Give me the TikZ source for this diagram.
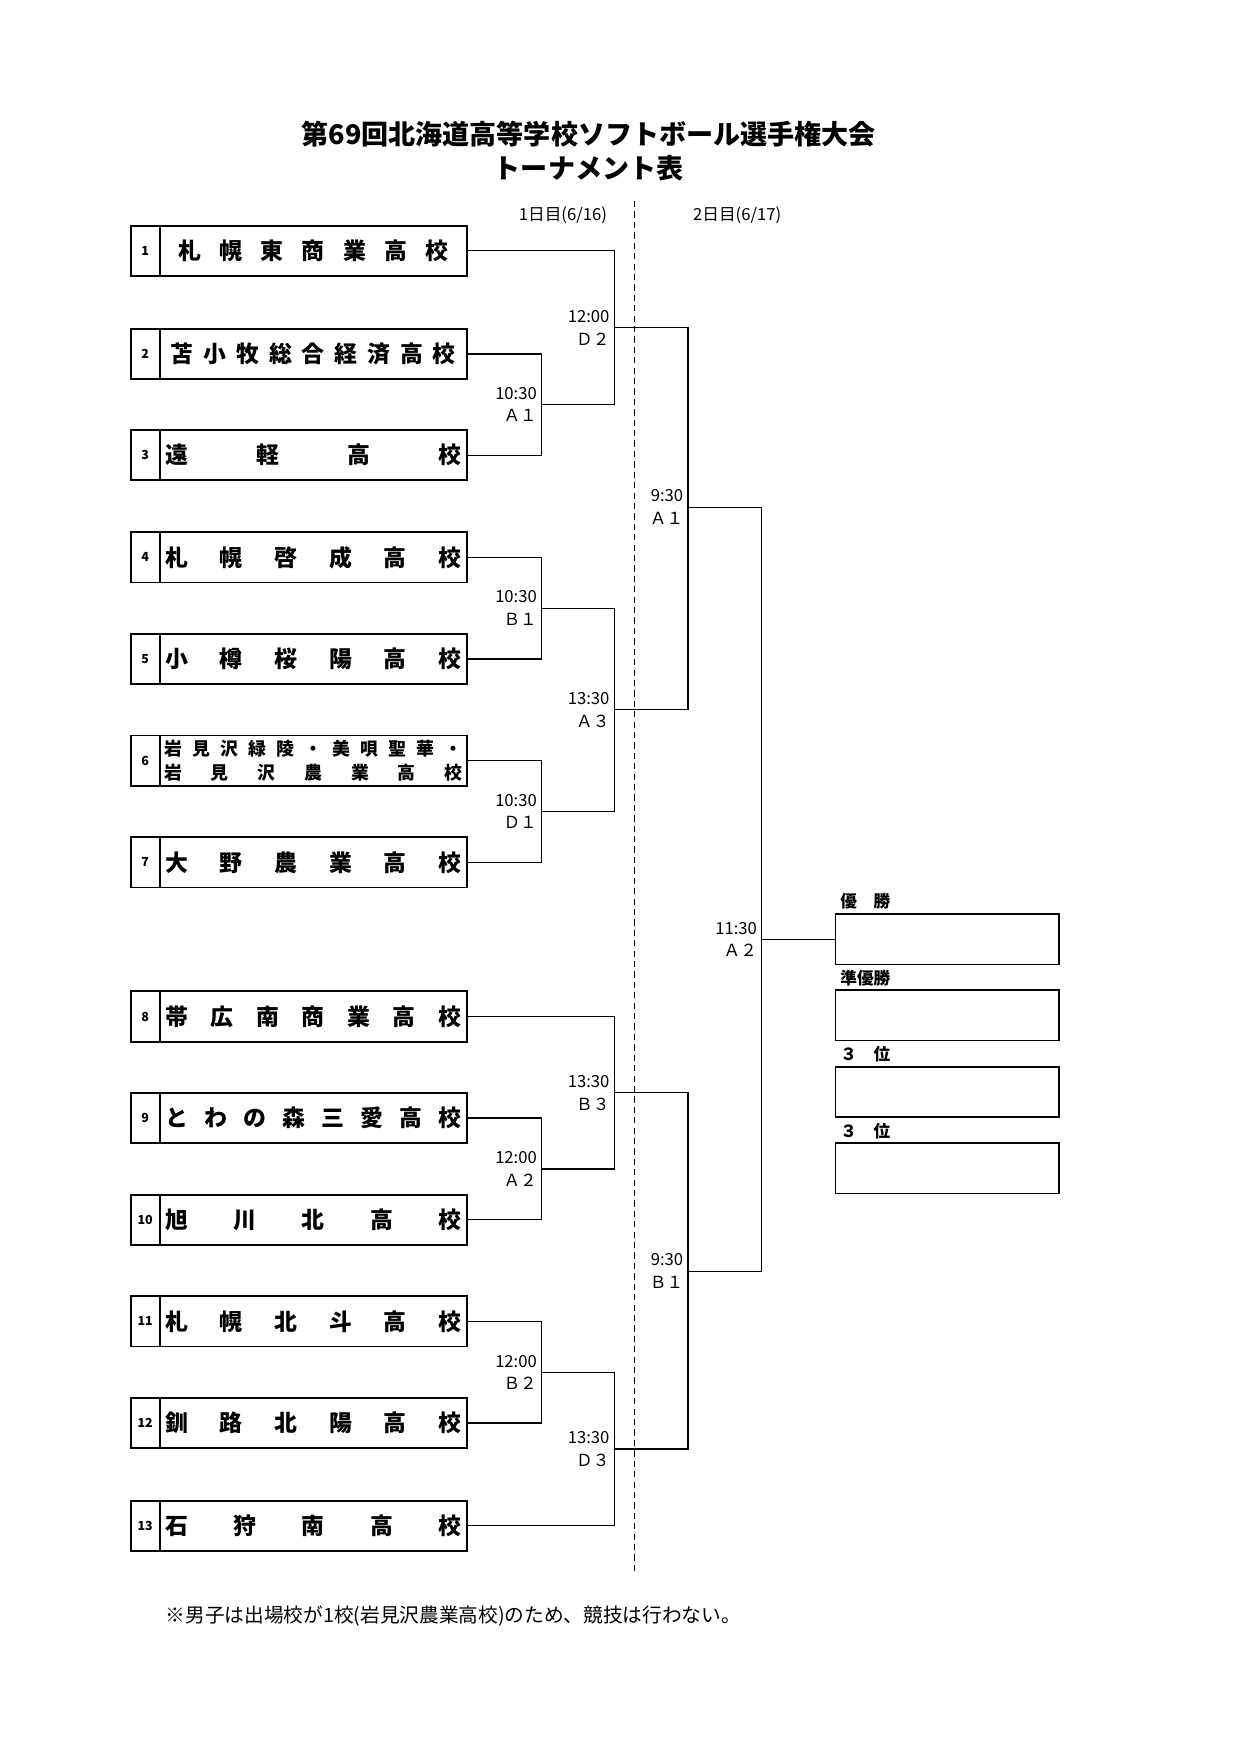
\documentclass[tikz,border=0pt]{standalone}
\usepackage{fontspec}
\setmainfont{Noto Sans CJK JP}
\usetikzlibrary{calc}
\newcommand{\spreadname}[2]{\makebox[#1][s]{#2}}
\newcommand{\matchlbl}[3]{%
  \node[timelbl,anchor=east] at ($(#1)+(-4,-10)$) {#2};
  \node[timelbl,anchor=east] at ($(#1)+(-4,10)$) {#3};}
\begin{document}
\begin{tikzpicture}[x=0.5365pt,y=-0.5365pt,
  numcell/.style={draw,line width=0.9pt,minimum width=13.95pt,minimum height=24.14pt,inner sep=0pt,font=\bfseries\fontsize{6pt}{7pt}\selectfont},
  namecell/.style={draw,line width=0.9pt,minimum width=147.5pt,minimum height=24.14pt,inner sep=0pt,font=\bfseries\fontsize{11pt}{13pt}\selectfont},
  resultbox/.style={draw,line width=0.9pt,minimum width=107.3pt,minimum height=24.14pt,inner sep=0pt},
  timelbl/.style={inner sep=0pt,font=\fontsize{8pt}{9pt}\selectfont},
  placelbl/.style={inner sep=0pt,anchor=west,font=\bfseries\fontsize{8pt}{9pt}\selectfont},
  bracket/.style={line width=0.6pt}]
\useasboundingbox (0,0) rectangle (1110,1569.4);
\node[font=\bfseries\fontsize{13pt}{15pt}\selectfont] (title) at (527,120) {第69回北海道高等学校ソフトボール選手権大会};
\node[font=\bfseries\fontsize{13pt}{15pt}\selectfont] (subtitle) at (527,151) {トーナメント表};
\node[timelbl] (day1) at (504,193) {1日目(6/16)};
\node[timelbl] (day2) at (660,193) {2日目(6/17)};
\coordinate (dtop) at (568,180);
\coordinate (dbot) at (568,1410);
\draw[line width=0.6pt,dash pattern=on 3pt off 2pt] (dtop) -- (dbot);

\node[numcell] (n1) at (130,224.5) {1};
\node[namecell] (t1) at (280.5,224.5) {\spreadname{129.8pt}{札\hfill 幌\hfill 東\hfill 商\hfill 業\hfill 高\hfill 校}};
\node[numcell] (n2) at (130,317) {2};
\node[namecell] (t2) at (280.5,317) {\spreadname{136.8pt}{苫\hfill 小\hfill 牧\hfill 総\hfill 合\hfill 経\hfill 済\hfill 高\hfill 校}};
\node[numcell] (n3) at (130,407.5) {3};
\node[namecell] (t3) at (280.5,407.5) {\spreadname{142.2pt}{遠\hfill 軽\hfill 高\hfill 校}};
\node[numcell] (n4) at (130,499) {4};
\node[namecell] (t4) at (280.5,499) {\spreadname{142.2pt}{札\hfill 幌\hfill 啓\hfill 成\hfill 高\hfill 校}};
\node[numcell] (n5) at (130,590) {5};
\node[namecell] (t5) at (280.5,590) {\spreadname{142.2pt}{小\hfill 樽\hfill 桜\hfill 陽\hfill 高\hfill 校}};
\node[numcell] (n6) at (130,681) {6};
\node[namecell,align=center,font=\bfseries\fontsize{8.6pt}{11.3pt}\selectfont] (t6) at (280.5,681) {\spreadname{143.2pt}{岩\hfill 見\hfill 沢\hfill 緑\hfill 陵\hfill ・\hfill 美\hfill 唄\hfill 聖\hfill 華\hfill ・}\\\spreadname{143.2pt}{岩\hfill 見\hfill 沢\hfill 農\hfill 業\hfill 高\hfill 校}};
\node[numcell] (n7) at (130,772) {7};
\node[namecell] (t7) at (280.5,772) {\spreadname{142.2pt}{大\hfill 野\hfill 農\hfill 業\hfill 高\hfill 校}};
\node[numcell] (n8) at (130,910) {8};
\node[namecell] (t8) at (280.5,910) {\spreadname{142.2pt}{帯\hfill 広\hfill 南\hfill 商\hfill 業\hfill 高\hfill 校}};
\node[numcell] (n9) at (130,1001) {9};
\node[namecell] (t9) at (280.5,1001) {\spreadname{142.2pt}{と\hfill わ\hfill の\hfill 森\hfill 三\hfill 愛\hfill 高\hfill 校}};
\node[numcell] (n10) at (130,1092) {10};
\node[namecell] (t10) at (280.5,1092) {\spreadname{142.2pt}{旭\hfill 川\hfill 北\hfill 高\hfill 校}};
\node[numcell] (n11) at (130,1183) {11};
\node[namecell] (t11) at (280.5,1183) {\spreadname{142.2pt}{札\hfill 幌\hfill 北\hfill 斗\hfill 高\hfill 校}};
\node[numcell] (n12) at (130,1274) {12};
\node[namecell] (t12) at (280.5,1274) {\spreadname{142.2pt}{釧\hfill 路\hfill 北\hfill 陽\hfill 高\hfill 校}};
\node[numcell] (n13) at (130,1366) {13};
\node[namecell] (t13) at (280.5,1366) {\spreadname{142.2pt}{石\hfill 狩\hfill 南\hfill 高\hfill 校}};

\coordinate (a1) at (485,362);
\coordinate (d2) at (550,293.3);
\coordinate (b1) at (485,544.5);
\coordinate (d1) at (485,726.5);
\coordinate (a3) at (550,635.5);
\coordinate (sa) at (616,454);
\coordinate (a2) at (485,1046.5);
\coordinate (b3) at (550,978.3);
\coordinate (b2) at (485,1228.5);
\coordinate (d3) at (550,1297.3);
\coordinate (sb) at (616,1138);
\coordinate (fin) at (682,841);

\draw[bracket] (t2.east) -| (a1) |- (t3.east);
\draw[bracket] (t1.east) -| (d2) |- (a1);
\draw[bracket] (t4.east) -| (b1) |- (t5.east);
\draw[bracket] (t6.east) -| (d1) |- (t7.east);
\draw[bracket] (b1) -| (a3) |- (d1);
\draw[bracket] (d2) -| (sa) |- (a3);
\draw[bracket] (t9.east) -| (a2) |- (t10.east);
\draw[bracket] (t8.east) -| (b3) |- (a2);
\draw[bracket] (t11.east) -| (b2) |- (t12.east);
\draw[bracket] (b2) -| (d3) |- (t13.east);
\draw[bracket] (b3) -| (sb) |- (d3);
\draw[bracket] (sa) -| (fin) |- (sb);

\matchlbl{a1}{10:30}{Ａ１}
\matchlbl{d2}{12:00}{Ｄ２}
\matchlbl{b1}{10:30}{Ｂ１}
\matchlbl{d1}{10:30}{Ｄ１}
\matchlbl{a3}{13:30}{Ａ３}
\matchlbl{sa}{9:30}{Ａ１}
\matchlbl{a2}{12:00}{Ａ２}
\matchlbl{b3}{13:30}{Ｂ３}
\matchlbl{b2}{12:00}{Ｂ２}
\matchlbl{d3}{13:30}{Ｄ３}
\matchlbl{sb}{9:30}{Ｂ１}
\matchlbl{fin}{11:30}{Ａ２}

\node[resultbox] (win) at (848,841) {};
\node[resultbox] (second) at (848,909) {};
\node[resultbox] (third1) at (848,977.5) {};
\node[resultbox] (third2) at (848,1046) {};
\draw[bracket] (fin) -- (win.west);
\node[placelbl] (winlbl) at (752,807) {優　勝};
\node[placelbl] (secondlbl) at (752,876) {準優勝};
\node[placelbl] (third1lbl) at (752,944) {３　位};
\node[placelbl] (third2lbl) at (752,1013) {３　位};

\node[anchor=west,inner sep=0pt,font=\fontsize{9.45pt}{11pt}\selectfont] (note) at (148,1447) {※男子は出場校が1校(岩見沢農業高校)のため、競技は行わない。};
\end{tikzpicture}
\end{document}
